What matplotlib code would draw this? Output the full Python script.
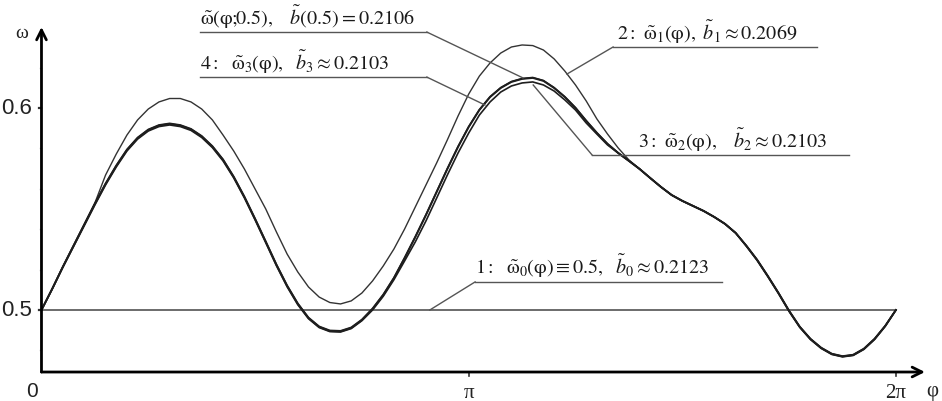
import matplotlib
matplotlib.use('Agg')
import matplotlib.pyplot as plt
import numpy as np

# ---- data (phi in units of pi, omega values) ----
phi_over_pi = [0.000, 0.025, 0.050, 0.075, 0.100, 0.125, 0.150, 0.175, 0.200, 0.225,
               0.250, 0.275, 0.300, 0.325, 0.350, 0.375, 0.400, 0.425, 0.450, 0.475,
               0.500, 0.525, 0.550, 0.575, 0.600, 0.625, 0.650, 0.675, 0.700, 0.725,
               0.750, 0.775, 0.800, 0.825, 0.850, 0.875, 0.900, 0.925, 0.950, 0.975,
               1.000, 1.025, 1.050, 1.075, 1.100, 1.125, 1.150, 1.175, 1.200, 1.225,
               1.250, 1.275, 1.300, 1.325, 1.350, 1.375, 1.400, 1.425, 1.450, 1.475,
               1.500, 1.525, 1.550, 1.575, 1.600, 1.625, 1.650, 1.675, 1.700, 1.725,
               1.750, 1.775, 1.800, 1.825, 1.850, 1.875, 1.900, 1.925, 1.950, 1.975,
               2.000]

# curve "omega(phi; 0.5)"
omega_half = [0.5000, 0.5104, 0.5213, 0.5317, 0.5421, 0.5525, 0.5624, 0.5713, 0.5792, 0.5851,
              0.5891, 0.5913, 0.5921, 0.5913, 0.5894, 0.5859, 0.5809, 0.5743, 0.5658, 0.5559,
              0.5450, 0.5337, 0.5223, 0.5119, 0.5030, 0.4960, 0.4916, 0.4896, 0.4894, 0.4911,
              0.4950, 0.5005, 0.5074, 0.5158, 0.5257, 0.5361, 0.5470, 0.5584, 0.5698, 0.5807,
              0.5906, 0.5990, 0.6054, 0.6099, 0.6129, 0.6144, 0.6149, 0.6134, 0.6099, 0.6054,
              0.6000, 0.5936, 0.5876, 0.5822, 0.5777, 0.5738, 0.5698, 0.5653, 0.5609, 0.5569,
              0.5540, 0.5515, 0.5490, 0.5460, 0.5426, 0.5381, 0.5317, 0.5248, 0.5168, 0.5084,
              0.4995, 0.4916, 0.4856, 0.4812, 0.4782, 0.4770, 0.4777, 0.4807, 0.4856, 0.4921,
              0.5000]

# curve 1: omega_0 = 0.5
omega_0 = [0.5] * len(phi_over_pi)

# curve 2: omega_1
omega_1 = [0.5000, 0.5104, 0.5213, 0.5317, 0.5423, 0.5530, 0.5668, 0.5772, 0.5866, 0.5941,
           0.5995, 0.6030, 0.6047, 0.6047, 0.6030, 0.5995, 0.5941, 0.5866, 0.5787, 0.5698,
           0.5599, 0.5500, 0.5386, 0.5277, 0.5188, 0.5114, 0.5064, 0.5037, 0.5030, 0.5045,
           0.5084, 0.5144, 0.5218, 0.5302, 0.5401, 0.5510, 0.5619, 0.5728, 0.5842, 0.5960,
           0.6069, 0.6158, 0.6223, 0.6272, 0.6302, 0.6312, 0.6309, 0.6287, 0.6243, 0.6183,
           0.6114, 0.6035, 0.5946, 0.5871, 0.5802, 0.5743, 0.5698, 0.5653, 0.5609, 0.5569,
           0.5540, 0.5515, 0.5490, 0.5460, 0.5426, 0.5381, 0.5317, 0.5248, 0.5168, 0.5084,
           0.4995, 0.4916, 0.4856, 0.4812, 0.4782, 0.4770, 0.4777, 0.4807, 0.4856, 0.4921,
           0.5000]

# curve 3: omega_2 (lower second peak)
omega_2 = [0.5000, 0.5103, 0.5211, 0.5314, 0.5417, 0.5520, 0.5619, 0.5708, 0.5787, 0.5846,
           0.5886, 0.5908, 0.5916, 0.5908, 0.5889, 0.5854, 0.5804, 0.5738, 0.5654, 0.5555,
           0.5446, 0.5333, 0.5219, 0.5115, 0.5026, 0.4957, 0.4913, 0.4893, 0.4891, 0.4908,
           0.4947, 0.5000, 0.5068, 0.5150, 0.5243, 0.5337, 0.5441, 0.5554, 0.5668, 0.5777,
           0.5876, 0.5965, 0.6030, 0.6079, 0.6109, 0.6124, 0.6129, 0.6114, 0.6084, 0.6040,
           0.5990, 0.5926, 0.5871, 0.5817, 0.5777, 0.5738, 0.5698, 0.5653, 0.5609, 0.5569,
           0.5540, 0.5515, 0.5490, 0.5460, 0.5426, 0.5381, 0.5319, 0.5250, 0.5170, 0.5086,
           0.4997, 0.4918, 0.4858, 0.4814, 0.4784, 0.4772, 0.4779, 0.4809, 0.4858, 0.4922,
           0.5000]

# curve 4: omega_3
omega_3 = [0.5000, 0.5105, 0.5215, 0.5320, 0.5424, 0.5528, 0.5627, 0.5716, 0.5795, 0.5854,
           0.5894, 0.5916, 0.5924, 0.5916, 0.5897, 0.5862, 0.5812, 0.5746, 0.5661, 0.5562,
           0.5453, 0.5340, 0.5226, 0.5122, 0.5033, 0.4963, 0.4919, 0.4899, 0.4897, 0.4914,
           0.4953, 0.5008, 0.5077, 0.5160, 0.5259, 0.5363, 0.5472, 0.5586, 0.5700, 0.5809,
           0.5908, 0.5992, 0.6056, 0.6101, 0.6131, 0.6146, 0.6151, 0.6136, 0.6101, 0.6056,
           0.6002, 0.5938, 0.5878, 0.5823, 0.5778, 0.5739, 0.5699, 0.5654, 0.5610, 0.5570,
           0.5541, 0.5516, 0.5491, 0.5461, 0.5427, 0.5382, 0.5316, 0.5246, 0.5166, 0.5082,
           0.4993, 0.4914, 0.4854, 0.4810, 0.4780, 0.4768, 0.4775, 0.4805, 0.4854, 0.4919,
           0.5000]

y_major = [0.5, 0.6]
y_major_labels = ['0.5', '0.6']
y_minor = [0.48, 0.52, 0.54, 0.56, 0.58, 0.62]
x_ticks = [np.pi, 2 * np.pi]
x_tick_labels = ['π', '2π']

plt.rcParams['mathtext.fontset'] = 'stix'
plt.rcParams['font.family'] = ['Liberation Serif', 'DejaVu Serif']

fig = plt.figure(figsize=(9.42, 4.02), dpi=100)
ax = fig.add_axes([0, 0, 1, 1])
ax.axis('off')

# limits chosen so the frame matches the original layout
ax.set_xlim(-0.0971 * np.pi, 2.1079 * np.pi)
ax.set_ylim(0.45495, 0.65396)

phi = np.array(phi_over_pi) * np.pi
ink = '#1e1e1e'

ax.plot(phi, omega_0, color='#444444', lw=1.1)
ax.plot(phi, omega_1, color='#333333', lw=1.0)
ax.plot(phi, omega_2, color=ink, lw=1.2)
ax.plot(phi, omega_3, color=ink, lw=1.2)
ax.plot(phi, omega_half, color=ink, lw=1.4)

# === axes with arrows ===
x_axis_y = 0.4693
x_end = 2.068 * np.pi
y_end = 0.6401
arrow = dict(arrowstyle='->,head_length=0.7,head_width=0.35', lw=2.0, color='black',
             shrinkA=0, shrinkB=0)
ax.annotate('', xy=(x_end, x_axis_y), xytext=(0, x_axis_y), arrowprops=arrow)
ax.annotate('', xy=(0, y_end), xytext=(0, x_axis_y), arrowprops=arrow)

# y ticks
dx = 0.016  # tick length (phi units)
for v, lab in zip(y_major, y_major_labels):
    ax.plot([-dx, 0], [v, v], color='#333333', lw=1.6)
    ax.text(-0.07, v, lab, ha='right', va='center', fontsize=16,
            family='Liberation Sans', color='#222222')
for v in y_minor:
    ax.plot([-dx * 0.8, 0], [v, v], color='#aaaaaa', lw=1.0)

# x ticks
for xt, lab in zip(x_ticks, x_tick_labels):
    ax.plot([xt, xt], [x_axis_y, x_axis_y - 0.002], color='#333333', lw=1.2)
    ax.text(xt, x_axis_y - 0.0055, lab, ha='center', va='top', fontsize=15, color='#222222')
ax.text(-0.07, 0.4573, '0', ha='center', va='baseline', fontsize=15,
        family='Liberation Sans', color='#222222')

# axis names
ax.text(2.0845 * np.pi, x_axis_y - 0.0045, 'φ', ha='center', va='top', fontsize=15, color='#222222')
ax.text(-0.046 * np.pi, 0.6376, 'ω', ha='center', va='center', fontsize=14, color='#222222')

# === labels with leader lines ===
lead = dict(color='#555555', lw=1.0)
fs = 14.5
labels = [
    # text, text x, underline y, underline x0, underline x1, leader end, side of attachment
    (r'$\tilde{\mathrm{\omega}}(\mathrm{\varphi};\!\!0.5),\ \ \ \tilde{b}(0.5) = 0.2106$',
     0.371, 0.6376, 0.371, 0.902, (1.127, 0.6149), 'right'),
    (r'$4:\ \ \tilde{\mathrm{\omega}}_3(\mathrm{\varphi}),\ \ \tilde{b}_3 \approx 0.2103$',
     0.371, 0.6153, 0.371, 0.902, (1.038, 0.6015), 'right'),
    (r'$2:\ \tilde{\mathrm{\omega}}_1(\mathrm{\varphi}),\ \tilde{b}_1 \approx 0.2069$',
     1.347, 0.6302, 1.338, 1.815, (1.230, 0.6168), 'left'),
    (r'$3:\ \tilde{\mathrm{\omega}}_2(\mathrm{\varphi}),\ \ \ \tilde{b}_2 \approx 0.2103$',
     1.396, 0.5767, 1.289, 1.890, (1.151, 0.6114), 'left'),
    (r'$1:\ \ \tilde{\mathrm{\omega}}_0(\mathrm{\varphi}) \equiv 0.5,\ \ \tilde{b}_0 \approx 0.2123$',
     1.015, 0.5139, 1.015, 1.593, (0.909, 0.5), 'left'),
]
for text, tx, uy, ux0, ux1, (px, py), side in labels:
    ax.text(tx * np.pi, uy + 0.0012, text, ha='left', va='bottom', fontsize=fs, color='#1a1a1a')
    ax.plot([ux0 * np.pi, ux1 * np.pi], [uy, uy], **lead)
    start = ux1 if side == 'right' else ux0
    ax.plot([start * np.pi, px * np.pi], [uy, py], **lead)

fig.savefig('out.png', dpi=100)
